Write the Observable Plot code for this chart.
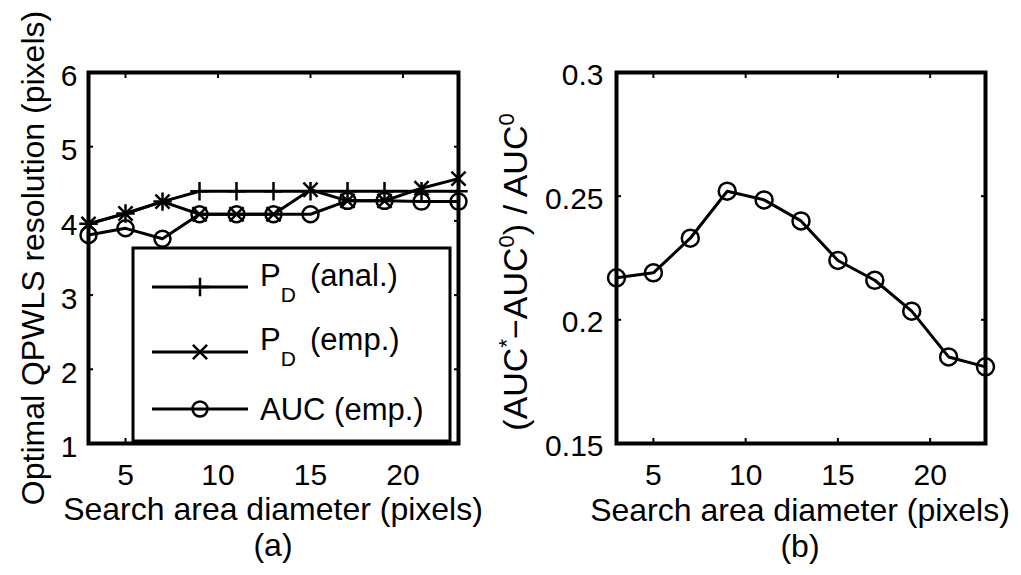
<!DOCTYPE html>
<html><head><meta charset="utf-8">
<script src="https://cdn.jsdelivr.net/npm/d3@7"></script>
<script src="https://cdn.jsdelivr.net/npm/@observablehq/plot@0.6"></script>
<style>
html,body{margin:0;padding:0;background:#fff;}
#wrap{position:relative;width:1021px;height:575px;overflow:hidden;background:#fff;}
#wrap svg{position:absolute;top:0;overflow:visible;}
#wrap svg g[aria-label="x-axis tick label"], #wrap svg g[aria-label="y-axis tick label"]{font-size:30px;}
</style></head><body><div id="wrap"></div>
<script>
// ---- data ----
const diameters = [3, 5, 7, 9, 11, 13, 15, 17, 19, 21, 23];
const pdAnal  = [3.96, 4.10, 4.26, 4.40, 4.40, 4.40, 4.40, 4.40, 4.40, 4.40, 4.40];
const pdEmp   = [3.96, 4.10, 4.26, 4.09, 4.09, 4.09, 4.42, 4.27, 4.27, 4.44, 4.57];
const aucEmp  = [3.81, 3.90, 3.76, 4.09, 4.09, 4.09, 4.09, 4.27, 4.27, 4.26, 4.26];
const aucGain = [0.217, 0.219, 0.233, 0.252, 0.2485, 0.240, 0.224, 0.216, 0.2035, 0.185, 0.181];
const xTicks  = [5, 10, 15, 20];
const yTicksA = [1, 2, 3, 4, 5, 6];
const yTicksB = [0.15, 0.2, 0.25, 0.3];
const xLabel = "Search area diameter (pixels)";
const yLabelA = "Optimal QPWLS resolution (pixels)";

const FONT = "'Liberation Sans', Arial, Helvetica, sans-serif";
const TICKFS = 30;
const rows = (vals) => diameters.map((d, i) => ({d, v: vals[i]}));

function boxMarks(yTicks, yDy, yPad) {
  return [
    Plot.axisX(xTicks, {anchor: "bottom", tickSize: 0, tickPadding: 20, tickFormat: d => String(d), label: null, fontSize: TICKFS}),
    Plot.axisX(xTicks, {anchor: "bottom", tickSize: -5, tickFormat: () => "", label: null, strokeWidth: 2}),
    Plot.axisX(xTicks, {anchor: "top", tickSize: -5, tickFormat: () => "", label: null, strokeWidth: 2}),
    Plot.axisY(yTicks, {anchor: "left", tickSize: 0, tickPadding: yPad, tickFormat: d => String(d), label: null, fontSize: TICKFS, dy: yDy}),
    Plot.axisY(yTicks, {anchor: "left", tickSize: -5, tickFormat: () => "", label: null, strokeWidth: 2}),
    Plot.axisY(yTicks, {anchor: "right", tickSize: -5, tickFormat: () => "", label: null, strokeWidth: 2}),
    Plot.frame({stroke: "black", strokeWidth: 4})
  ];
}

function series(vals, symbol, r) {
  const data = rows(vals);
  return [
    Plot.line(data, {x: "d", y: "v", stroke: "black", strokeWidth: 3}),
    Plot.dot(data, {x: "d", y: "v", symbol, r, stroke: "black", fill: "none", strokeWidth: 2.5})
  ];
}

// ---- panel (a) ----
const svgA = Plot.plot({
  width: 510, height: 575,
  marginLeft: 88, marginRight: 52, marginTop: 72, marginBottom: 132,
  style: {fontFamily: FONT, fontSize: TICKFS + "px", color: "black", background: "transparent", overflow: "visible"},
  x: {domain: [3, 23]},
  y: {domain: [1, 6]},
  marks: [
    ...series(pdAnal, "plus", 6),
    ...series(pdEmp, "times", 6.5),
    ...series(aucEmp, "circle", 8),
    ...boxMarks(yTicksA, 4, 11)
  ]
});
svgA.style.left = "0px";

// ---- panel (b) ----
const svgB = Plot.plot({
  width: 531, height: 575,
  marginLeft: 126, marginRight: 36, marginTop: 72, marginBottom: 132,
  style: {fontFamily: FONT, fontSize: TICKFS + "px", color: "black", background: "transparent", overflow: "visible"},
  x: {domain: [3, 23]},
  y: {domain: [0.15, 0.3]},
  marks: [
    ...series(aucGain, "circle", 8.5),
    ...boxMarks(yTicksB, 3, 13)
  ]
});
svgB.style.left = "490px";

const wrap = document.getElementById("wrap");
wrap.appendChild(svgA);
wrap.appendChild(svgB);

// ---- labels ----
function addText(svg, x, y, str, size, rotate) {
  return d3.select(svg).append("text")
    .attr("transform", `translate(${x},${y})` + (rotate ? " rotate(-90)" : ""))
    .attr("text-anchor", "middle")
    .attr("font-family", FONT).attr("font-size", size).attr("fill", "black")
    .text(str);
}
addText(svgA, 273, 520, xLabel, 32);
addText(svgA, 273, 556, "(a)", 32);
addText(svgA, 44, 258, yLabelA, 32, true);

addText(svgB, 310, 521, xLabel, 32);
addText(svgB, 310, 557, "(b)", 32);
{
  const t = d3.select(svgB).append("text")
    .attr("transform", "translate(37,272) rotate(-90)")
    .attr("text-anchor", "middle")
    .attr("font-family", FONT).attr("font-size", 34).attr("fill", "black");
  const parts = [["(AUC", 34, 0], ["*", 22, -13], ["\u2212AUC", 34, 13], ["0", 22, -13], [") / AUC", 34, 13], ["0", 22, -13]];
  parts.forEach(([s, fs, dy]) => t.append("tspan").attr("font-size", fs).attr("dy", dy).text(s));
}

// ---- legend for (a) ----
{
  const g = d3.select(svgA).append("g").attr("font-family", FONT).attr("fill", "black").attr("text-anchor", "start");
  g.append("rect").attr("x", 133).attr("y", 248).attr("width", 317).attr("height", 193)
    .attr("fill", "white").attr("stroke", "black").attr("stroke-width", 3);
  const entries = [
    {sym: d3.symbolPlus, r: 6, ly: 287, main: "P", sub: "D", rest: "(anal.)", base: 286},
    {sym: d3.symbolTimes, r: 6.5, ly: 352, main: "P", sub: "D", rest: "(emp.)", base: 350},
    {sym: d3.symbolCircle, r: 7.5, ly: 409, main: "AUC (emp.)", sub: null, rest: null, base: 420}
  ];
  entries.forEach(e => {
    g.append("line").attr("x1", 152).attr("x2", 248).attr("y1", e.ly).attr("y2", e.ly)
      .attr("stroke", "black").attr("stroke-width", 3);
    g.append("path").attr("transform", `translate(200,${e.ly})`)
      .attr("d", d3.symbol(e.sym, Math.PI * e.r * e.r)())
      .attr("fill", "none").attr("stroke", "black").attr("stroke-width", 2.5);
    const t = g.append("text").attr("x", 260).attr("y", e.base).attr("font-size", 31).attr("text-anchor", "start");
    t.append("tspan").text(e.main);
    if (e.sub) {
      t.append("tspan").attr("font-size", 21).attr("dy", 16).text(e.sub);
      t.append("tspan").attr("x", 310).attr("dy", -16).text(e.rest);
    }
  });
}
</script>
</body></html>
